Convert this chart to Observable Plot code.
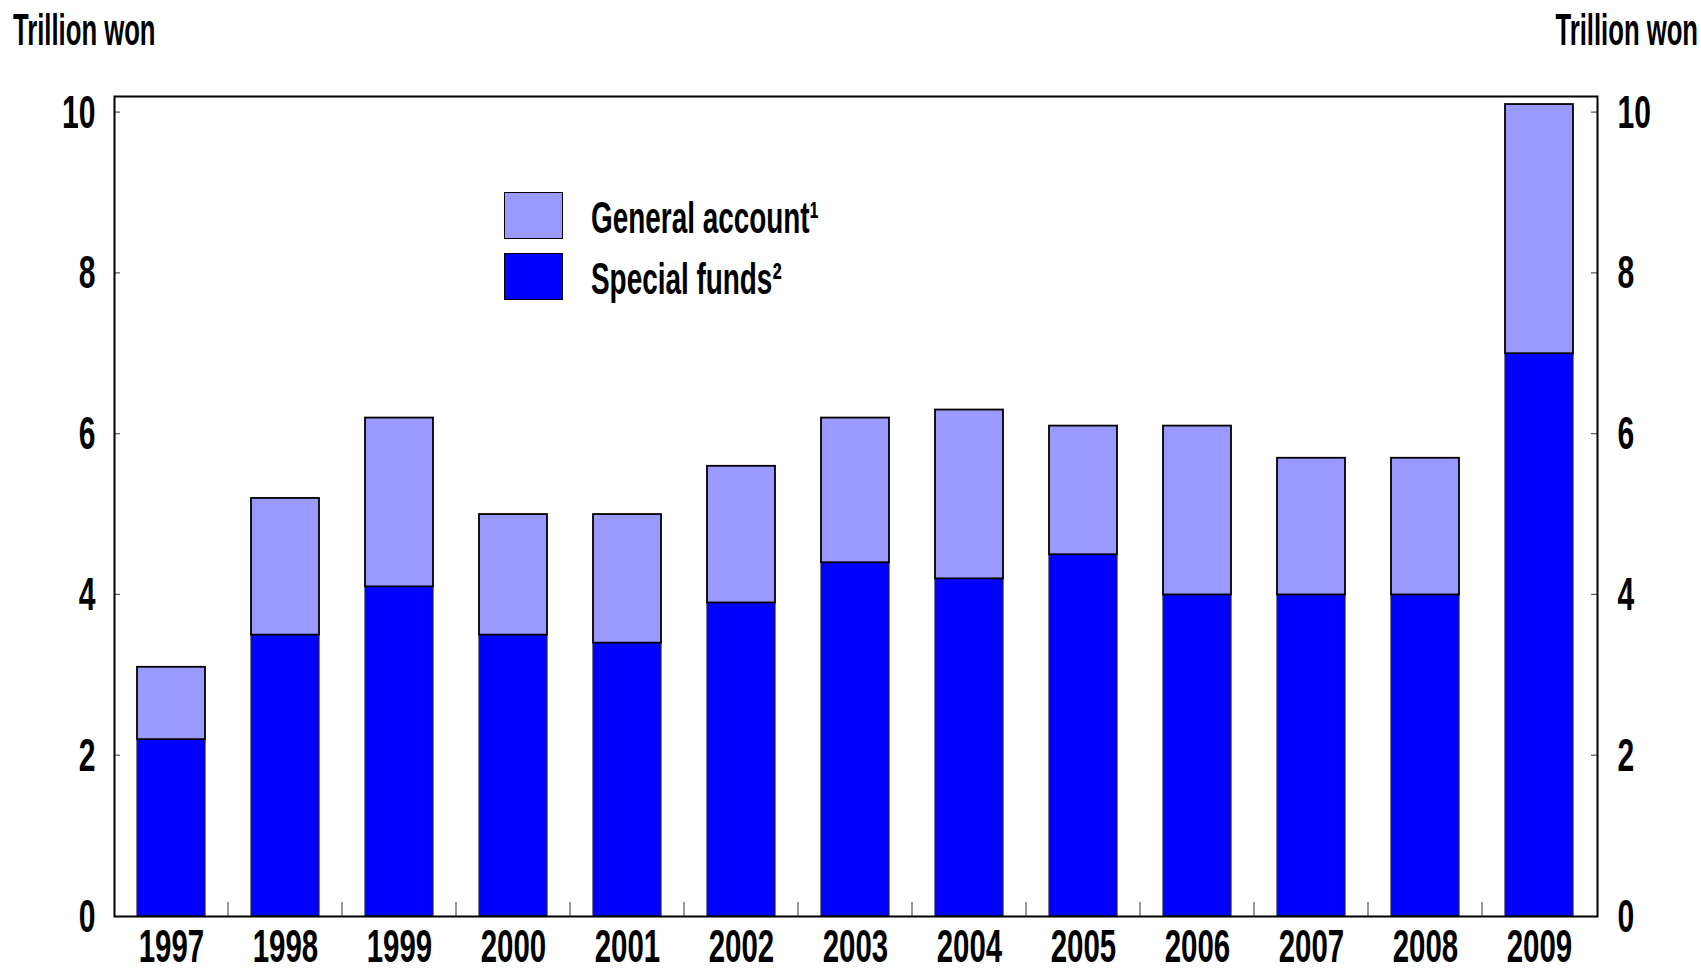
<!DOCTYPE html>
<html><head><meta charset="utf-8">
<script src="https://cdn.jsdelivr.net/npm/d3@7"></script>
<script src="https://cdn.jsdelivr.net/npm/@observablehq/plot@0.6"></script>
<style>
html,body{margin:0;padding:0;background:#fff;}
#wrap{position:relative;width:1701px;height:973px;font-family:"Liberation Sans Narrow","Arial Narrow","Liberation Sans",sans-serif;color:#000;}
.t{position:absolute;font-size:45px;line-height:45px;white-space:nowrap;font-weight:bold;}
.sw{position:absolute;width:57px;height:45px;border:1.5px solid #000;}
</style>
</head><body>
<div id="wrap">
  <div id="chart"></div>
  <div class="t" style="left:13px;top:7px;transform:scaleX(0.57);transform-origin:left top;">Trillion won</div>
  <div class="t" style="right:3px;top:7px;transform:scaleX(0.57);transform-origin:right top;">Trillion won</div>
  <div id="legend"></div>
</div>
<script>
const years = ["1997","1998","1999","2000","2001","2002","2003","2004","2005","2006","2007","2008","2009"];
const specialFunds   = [2.2, 3.5, 4.1, 3.5, 3.4, 3.9, 4.4, 4.2, 4.5, 4.0, 4.0, 4.0, 7.0];
const generalAccount = [0.9, 1.7, 2.1, 1.5, 1.6, 1.7, 1.8, 2.1, 1.6, 2.1, 1.7, 1.7, 3.1];
const yTicks = [0, 2, 4, 6, 8, 10];
const seriesNames = ["General account¹", "Special funds²"];
const seriesColors = ["#9999ff", "#0000ff"];

const specialRows = years.map((y, i) => ({year: y, lo: 0, hi: specialFunds[i]}));
const generalRows = years.map((y, i) => ({year: y, lo: specialFunds[i], hi: specialFunds[i] + generalAccount[i]}));

function decoTicks(index, scales, values, dimensions) {
  const {x, y} = scales;
  const {width, height, marginLeft, marginRight, marginBottom} = dimensions;
  const left = marginLeft, right = width - marginRight, bottom = height - marginBottom;
  const g = d3.create("svg:g").attr("stroke", "#555").attr("stroke-width", 1.2);
  for (const v of yTicks) {
    if (v === 0) continue;
    const py = y(v);
    g.append("line").attr("x1", left).attr("x2", left + 6).attr("y1", py).attr("y2", py);
    g.append("line").attr("x1", right).attr("x2", right - 6).attr("y1", py).attr("y2", py);
  }
  const bw = typeof x.bandwidth === "function" ? x.bandwidth() : x.bandwidth;
  const step = x(years[1]) - x(years[0]);
  for (let i = 0; i < years.length - 1; i++) {
    const px = x(years[i]) + bw + (step - bw) / 2;
    g.append("line").attr("x1", px).attr("x2", px).attr("y1", bottom).attr("y2", bottom - 14);
  }
  return g.node();
}

const chart = Plot.plot({
  width: 1701,
  height: 973,
  marginLeft: 114,
  marginRight: 104,
  marginTop: 96,
  marginBottom: 57,
  style: {fontFamily: '"Liberation Sans Narrow","Arial Narrow","Liberation Sans",sans-serif', fontSize: "47px", fontWeight: "bold", background: "#fff", color: "#000"},
  x: {domain: years, paddingInner: 0.4, paddingOuter: 0.2, label: null},
  y: {domain: [0, 10.2], label: null},
  marks: [
    Plot.barY(specialRows, {x: "year", y1: "lo", y2: "hi", fill: seriesColors[1], stroke: "#222244", strokeWidth: 1.2}),
    Plot.barY(generalRows, {x: "year", y1: "lo", y2: "hi", fill: seriesColors[0], stroke: "#000", strokeWidth: 1.8}),
    Plot.axisY(yTicks, {anchor: "left", tickSize: 0, tickPadding: 19, label: null, fontSize: 47, tickFormat: d => String(d)}),
    Plot.axisY(yTicks, {anchor: "right", tickSize: 0, tickPadding: 20, label: null, fontSize: 47, tickFormat: d => String(d)}),
    Plot.axisX({tickSize: 0, tickPadding: 13, label: null, fontSize: 46}),
    decoTicks,
    Plot.frame({stroke: "#000", strokeWidth: 2})
  ]
});
document.getElementById("chart").appendChild(chart);

chart.querySelectorAll("text").forEach(t => {
  const tr = t.getAttribute("transform") || "";
  t.setAttribute("transform", tr + " scale(0.64,1)");
});

const legend = document.getElementById("legend");
const swTops = [192, 253];
seriesNames.forEach((name, i) => {
  const sw = document.createElement("div");
  sw.className = "sw";
  sw.style.left = "504px";
  sw.style.top = swTops[i] + "px";
  sw.style.background = seriesColors[i];
  legend.appendChild(sw);
  const lab = document.createElement("div");
  lab.className = "t";
  lab.style.left = "591px";
  lab.style.top = (swTops[i] + 3) + "px";
  lab.style.transform = "scaleX(0.62)";
  lab.style.transformOrigin = "left top";
  lab.textContent = name;
  legend.appendChild(lab);
});
</script>
</body></html>
